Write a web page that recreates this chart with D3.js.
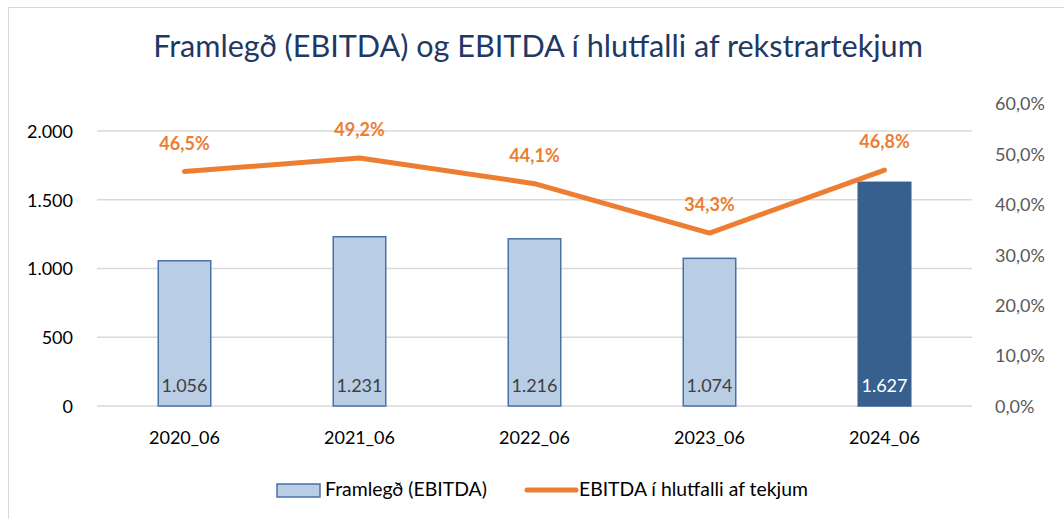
<!DOCTYPE html>
<html><head><meta charset="utf-8">
<script src="https://cdn.jsdelivr.net/npm/d3@7"></script>
<style>body{margin:0;background:#fff;} svg{display:block;font-family:Lato,"Open Sans",sans-serif;}</style>
</head><body>
<svg id="c" width="1064" height="519"></svg>
<script>
const categories = ["2020_06","2021_06","2022_06","2023_06","2024_06"];
const ebitda = [1056,1231,1216,1074,1627];
const ratio = [46.5,49.2,44.1,34.3,46.8];
const leftTicks = [0,500,1000,1500,2000];
const rightTicks = [0,10,20,30,40,50,60];
const title = "Framlegð (EBITDA) og EBITDA í hlutfalli af rekstrartekjum";
const legendLabels = ["Framlegð (EBITDA)","EBITDA í hlutfalli af tekjum"];

const svg = d3.select("#c");
const fmtInt = d3.formatLocale({decimal:",",thousands:".",grouping:[3],currency:["",""]}).format(",d");
const fmtPct = v => d3.format(".1f")(v).replace(".",",") + "%";

svg.append("rect").attr("x",8.5).attr("y",7.5).attr("width",1070).attr("height",530)
  .attr("fill","#fff").attr("stroke","#d9d9d9").attr("stroke-width",1);

const L=97, R=972, T=103.5, B=406;
const x = d3.scaleBand().domain(categories).range([L,R]).paddingInner(0.7).paddingOuter(0.35);
const yL = d3.scaleLinear().domain([0,2200]).range([B,T]);
const yR = d3.scaleLinear().domain([0,60]).range([B,T]);

// gridlines
svg.append("g").selectAll("line").data(leftTicks).join("line")
  .attr("x1",L).attr("x2",R).attr("y1",d=>yL(d)).attr("y2",d=>yL(d))
  .attr("stroke","#d9d9d9").attr("stroke-width",1.5);

// left axis
const ax = svg.append("g").attr("transform",`translate(${L-21},0)`)
  .call(d3.axisLeft(yL).tickValues(leftTicks).tickFormat(fmtInt).tickSize(0));
ax.select(".domain").remove();
ax.selectAll("text").attr("font-size",18).attr("fill","#000").attr("font-family","Lato").attr("dy","0.35em");

// right axis
const ar = svg.append("g").attr("transform",`translate(${R+20},0)`)
  .call(d3.axisRight(yR).tickValues(rightTicks).tickFormat(fmtPct).tickSize(0));
ar.select(".domain").remove();
ar.selectAll("text").attr("font-size",18).attr("fill","#595959").attr("font-family","Lato").attr("dy","0.35em");

// x axis labels
const axb = svg.append("g").attr("transform",`translate(0,${B+22})`)
  .call(d3.axisBottom(x).tickSize(0));
axb.select(".domain").remove();
axb.selectAll("text").attr("font-size",18).attr("fill","#000").attr("font-family","Lato");

// bars
const last = categories.length-1;
svg.append("g").selectAll("rect").data(ebitda).join("rect")
  .attr("x",(d,i)=>x(categories[i])).attr("width",x.bandwidth())
  .attr("y",d=>yL(d)).attr("height",d=>B-yL(d))
  .attr("fill",(d,i)=>i===last?"#37608f":"#b9cde5")
  .attr("stroke",(d,i)=>i===last?"#37608f":"#4a70a8").attr("stroke-width",1.5);

// bar value labels
svg.append("g").selectAll("text").data(ebitda).join("text")
  .attr("x",(d,i)=>x(categories[i])+x.bandwidth()/2).attr("y",B-14)
  .attr("text-anchor","middle").attr("font-size",18)
  .attr("fill",(d,i)=>i===last?"#fff":"#404040").text(d=>fmtInt(d));

// line
const cx = (i)=>x(categories[i])+x.bandwidth()/2;
svg.append("path").datum(ratio)
  .attr("d",d3.line().x((d,i)=>cx(i)).y(d=>yR(d)))
  .attr("fill","none").attr("stroke","#ed7d31").attr("stroke-width",5).attr("stroke-linejoin","round").attr("stroke-linecap","round");

svg.append("g").selectAll("text").data(ratio).join("text")
  .attr("x",(d,i)=>cx(i)).attr("y",d=>yR(d)-22)
  .attr("text-anchor","middle").attr("font-size",18).attr("font-weight","bold")
  .attr("fill","#ed7d31").text(d=>fmtPct(d));

// title
const t = svg.append("text").attr("x",538).attr("y",57).attr("text-anchor","middle")
  .attr("font-size",30).attr("fill","#1f3864").text(title);
const tw = t.node().getComputedTextLength();
t.attr("font-size",30*770/tw);

// legend
const lg = svg.append("g");
lg.append("rect").attr("x",277).attr("y",484).attr("width",43).attr("height",13)
  .attr("fill","#b9cde5").attr("stroke","#4a70a8").attr("stroke-width",1.5);
const l1 = lg.append("text").attr("x",325).attr("y",496).attr("font-size",17).attr("fill","#000").text(legendLabels[0]);
l1.attr("font-size",17*162/l1.node().getComputedTextLength());
lg.append("line").attr("x1",527).attr("x2",576).attr("y1",490).attr("y2",490)
  .attr("stroke","#ed7d31").attr("stroke-width",5).attr("stroke-linecap","round");
const l2 = lg.append("text").attr("x",579).attr("y",496).attr("font-size",17).attr("fill","#000").text(legendLabels[1]);
l2.attr("font-size",17*229/l2.node().getComputedTextLength());
</script>
</body></html>
